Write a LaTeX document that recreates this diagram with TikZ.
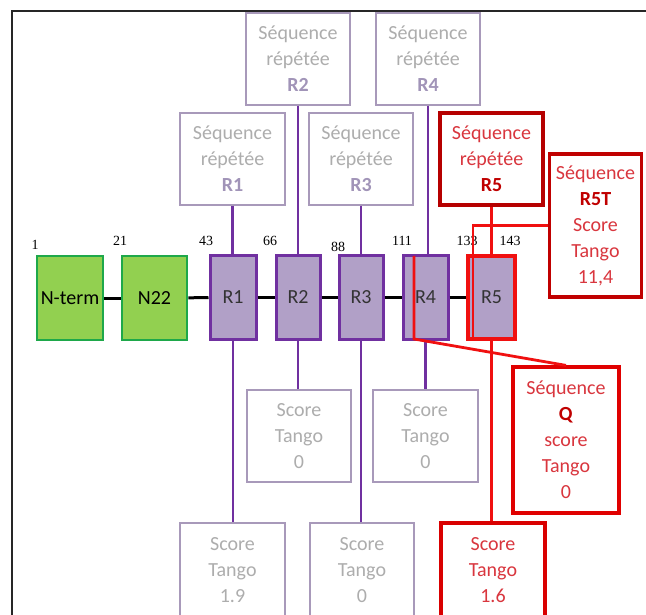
\documentclass[tikz,border=0pt]{standalone}
\usepackage{fontspec}
\setmainfont{Carlito}
\newfontfamily\numfont{Liberation Serif}
\definecolor{dgreen}{HTML}{92D050}
\definecolor{dgreenb}{HTML}{1EA84A}
\definecolor{lav}{HTML}{B1A0C7}
\definecolor{purp}{HTML}{7030A0}
\definecolor{boxgrey}{HTML}{A899BA}
\definecolor{txtgrey}{HTML}{ADADAD}
\definecolor{lavtxt}{HTML}{A194B8}
\definecolor{darkred}{HTML}{C00000}
\definecolor{redtxt}{HTML}{D9363E}
\definecolor{brred}{HTML}{F01010}
\tikzset{
  bigfont/.style={font=\fontsize{20}{26}\selectfont},
  seqbox/.style={draw=boxgrey, line width=1.2pt, text=txtgrey, align=center, bigfont, inner sep=0pt, minimum width=104pt, minimum height=92pt},
  redbox/.style={draw=darkred, line width=3.2pt, text=redtxt, align=center, bigfont, inner sep=0pt, minimum width=104pt, minimum height=92pt},
  gdom/.style={fill=dgreen, draw=dgreenb, line width=2.6pt, bigfont, inner sep=0pt, minimum height=84pt},
  pdom/.style={fill=lav, draw=purp, line width=3pt, bigfont, text=black!80, inner sep=0pt, minimum height=83pt},
  chain/.style={draw=black, line width=3pt},
  plink/.style={draw=purp, line width=2.8pt},
  rlink/.style={draw=brred, line width=2.8pt},
  numlab/.style={font=\numfont\fontsize{14}{16}\selectfont, inner sep=0pt}
}
\begin{document}
\begin{tikzpicture}[x=1pt,y=-1pt]
\useasboundingbox (0,0) rectangle (646,615);
\fill[white] (0,0) rectangle (646,615);
% frame
\coordinate (ftl) at (12,11);
\coordinate (ftr) at (646,11);
\coordinate (fbl) at (12,615);
\draw[line width=2.6pt, black!85, line cap=butt] (ftr) -- (ftl) -- (fbl);
% domains
\node[gdom, minimum width=66pt] (nterm) at (70,298) {N-term};
\node[gdom, minimum width=65pt] (n22) at (154.5,298) {N22};
\node[pdom, minimum width=46pt] (r1) at (233,297.5) {R1};
\node[pdom, minimum width=44pt] (r2) at (298,297.5) {R2};
\node[pdom, minimum width=44pt] (r3) at (361,297.5) {R3};
\node[pdom, minimum width=45pt] (r4) at (425.5,297.5) {R4};
\node[pdom, minimum width=47pt, draw=brred, line width=3.4pt] (r5) at (491.5,297.5) {R5};
\draw[chain] (nterm) -- (n22);
\draw[chain] (n22) -- (r1);
\draw[chain] (r1) -- (r2);
\draw[chain] (r2) -- (r3);
\draw[chain] (r3) -- (r4);
\draw[chain] (r4) -- (r5);
% position numbers
\node[numlab] (p1) at (35,245) {1};
\node[numlab] (p21) at (120,241) {21};
\node[numlab] (p43) at (206,241) {43};
\node[numlab] (p66) at (270,241) {66};
\node[numlab] (p88) at (338,247) {88};
\node[numlab] (p111) at (402,241) {111};
\node[numlab] (p133) at (467,241) {133};
\node[numlab] (p143) at (510,241) {143};
% top sequence boxes
\node[seqbox] (s2) at (298,59) {Séquence\\répétée\\\textcolor{lavtxt}{\textbf{R2}}};
\node[seqbox] (s4) at (428,59) {Séquence\\répétée\\\textcolor{lavtxt}{\textbf{R4}}};
\node[seqbox, minimum width=105pt] (s1) at (232.5,159) {Séquence\\répétée\\\textcolor{lavtxt}{\textbf{R1}}};
\node[seqbox] (s3) at (361,159) {Séquence\\répétée\\\textcolor{lavtxt}{\textbf{R3}}};
\node[redbox, minimum width=103pt, line width=3.6pt, draw=darkred!95!black] (s5) at (491.5,159) {Séquence\\répétée\\\textcolor{darkred}{\textbf{R5}}};
\node[redbox, minimum width=92pt, minimum height=143pt] (r5t) at (595.5,225.5) {Séquence\\\textcolor{darkred}{\textbf{R5T}}\\Score\\Tango\\11,4};
% bottom score boxes (cut by the page edge)
\begin{scope}
\clip (0,0) rectangle (646,615);
\node[seqbox] (t2) at (299,436) {Score\\Tango\\0};
\node[seqbox, minimum width=105pt] (t4) at (425.5,436) {Score\\Tango\\0};
\node[seqbox, minimum width=105pt, minimum height=94pt] (t1) at (232.5,570) {Score\\Tango\\1.9};
\node[seqbox, minimum height=94pt] (t3) at (362,570) {Score\\Tango\\0};
\node[redbox, minimum height=94pt, draw=red!85!black] (t5) at (493,570) {Score\\Tango\\1.6};
\end{scope}
\node[redbox, minimum width=106pt, minimum height=146pt, draw=red!88!black] (q) at (566,440) {Séquence\\\textcolor{darkred}{\textbf{Q}}\\score\\Tango\\0};
% purple links
\draw[plink] (s1.south) -- (s1.south |- r1.north);
\draw[plink] (s2.south) -- (s2.south |- r2.north);
\draw[plink] (s3.south) -- (s3.south |- r3.north);
\draw[plink] (s4.south) -- (s4.south |- r4.north);
\draw[plink] (r1.south) -- (r1.south |- t1.north);
\draw[plink] (r2.south) -- (r2.south |- t2.north);
\draw[plink] (r3.south) -- (r3.south |- t3.north);
\draw[plink] (r4.south) -- (r4.south |- t4.north);
% red links
\draw[rlink] (s5.south) -- (s5.south |- r5.north);
\draw[rlink] (r5.south) -- (r5.south |- t5.north);
\coordinate (r5tin) at (473,339);
\draw[rlink] (r5t.west) -| (r5tin);
\coordinate (qtop) at (414,256);
\coordinate (qbot) at (414,339);
\draw[rlink] (qtop) -- (qbot) -- (q.north);
\end{tikzpicture}
\end{document}
